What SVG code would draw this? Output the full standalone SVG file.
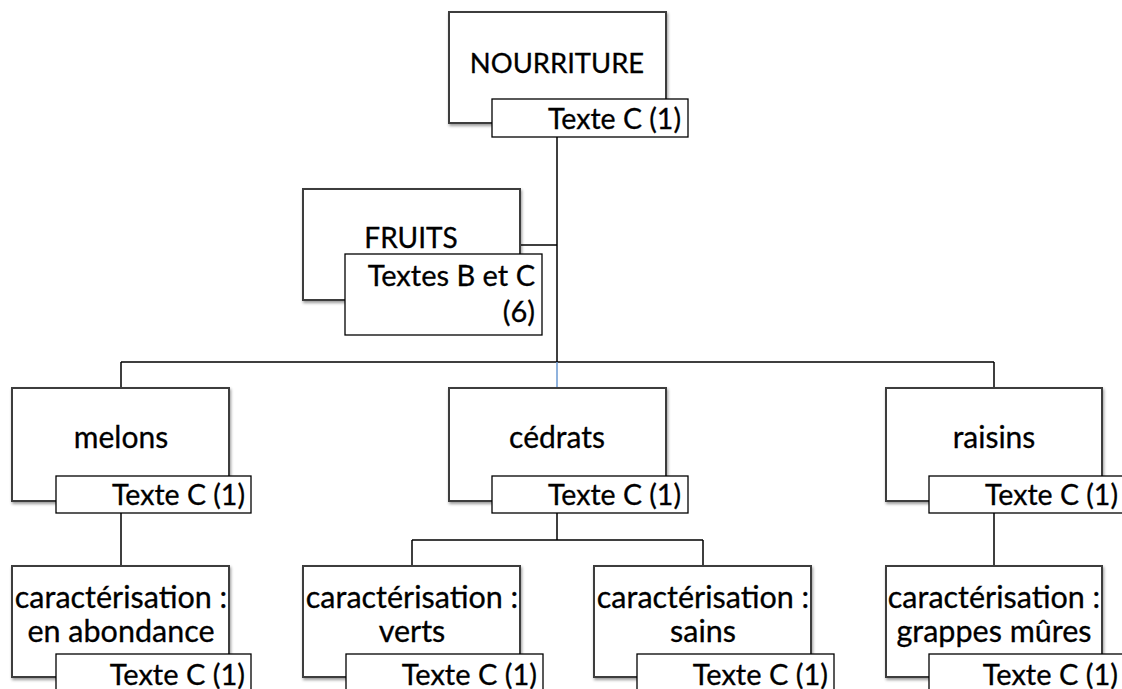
<svg xmlns="http://www.w3.org/2000/svg" width="1122" height="689" viewBox="0 0 1122 689">
<defs>
<filter id="sh" x="-10%" y="-10%" width="125%" height="130%">
<feDropShadow dx="1" dy="2" stdDeviation="1.5" flood-color="#000" flood-opacity="0.4"/>
</filter>
<style>
.box{fill:#fff;stroke:#3c3c3c;stroke-width:2;filter:url(#sh)}
.lab{fill:#fff;stroke:#000;stroke-width:1.3}
.t{font-family:Lato,"Open Sans","Liberation Sans",sans-serif;font-size:30px;fill:#000;stroke:#000;stroke-width:0.3}
.s{font-size:28.5px}
.b{font-size:29px}
.c{text-anchor:middle}
.r{text-anchor:end}
.ln{stroke:#000;stroke-width:1.5;fill:none}
</style>
</defs>
<rect width="1122" height="689" fill="#fff"/>
<g id="connectors">
<path class="ln" d="M557 137V362M520 245H557M121 362H994M121 362V388M994 362V388"/>
<path d="M557 362V388" stroke="#6a98d2" stroke-width="1.5"/>
<path class="ln" d="M121 513V566M557 513V540M412 540H703M412 540V566M703 540V566M994 513V566"/>
</g>
<g id="nourriture">
<rect class="box" x="449" y="12" width="217" height="111"/>
<text class="t c" x="557" y="73" style="font-size:27.4px">NOURRITURE</text>
<rect class="lab" x="492" y="99" width="196" height="38"/>
<text class="t r s" x="681" y="129">Texte C (1)</text>
</g>
<g id="fruits">
<rect class="box" x="303" y="189" width="217" height="111"/>
<text class="t c" x="411" y="248" style="font-size:28px">FRUITS</text>
<rect class="lab" x="345" y="254" width="197" height="81"/>
<text class="t r b" x="535" y="286">Textes B et C</text>
<text class="t r b" x="535" y="322">(6)</text>
</g>
<g id="melons">
<rect class="box" x="12" y="388" width="217" height="113"/>
<text class="t c" x="121" y="448">melons</text>
<rect class="lab" x="56" y="476" width="195" height="37"/>
<text class="t r s" x="245" y="505">Texte C (1)</text>
</g>
<g id="cedrats">
<rect class="box" x="449" y="388" width="217" height="113"/>
<text class="t c" x="557" y="448">cédrats</text>
<rect class="lab" x="492" y="476" width="196" height="37"/>
<text class="t r s" x="681" y="505">Texte C (1)</text>
</g>
<g id="raisins">
<rect class="box" x="886" y="388" width="216" height="113"/>
<text class="t c" x="994" y="448">raisins</text>
<rect class="lab" x="929" y="476" width="196" height="37"/>
<text class="t r s" x="1118" y="505">Texte C (1)</text>
</g>
<g id="car-melons">
<rect class="box" x="12" y="566" width="217" height="111"/>
<text class="t c" x="121" y="608" style="font-size:30.5px">caractérisation :</text>
<text class="t c" x="121" y="642" style="font-size:30.5px">en abondance</text>
<rect class="lab" x="56" y="654" width="195" height="40"/>
<text class="t r b" x="245" y="685">Texte C (1)</text>
</g>
<g id="car-verts">
<rect class="box" x="303" y="566" width="217" height="111"/>
<text class="t c" x="412" y="608" style="font-size:30.5px">caractérisation :</text>
<text class="t c" x="412" y="642" style="font-size:30.5px">verts</text>
<rect class="lab" x="346" y="654" width="197" height="40"/>
<text class="t r b" x="537" y="685">Texte C (1)</text>
</g>
<g id="car-sains">
<rect class="box" x="594" y="566" width="217" height="111"/>
<text class="t c" x="703" y="608" style="font-size:30.5px">caractérisation :</text>
<text class="t c" x="703" y="642" style="font-size:30.5px">sains</text>
<rect class="lab" x="637" y="654" width="197" height="40"/>
<text class="t r b" x="828" y="685">Texte C (1)</text>
</g>
<g id="car-raisins">
<rect class="box" x="886" y="566" width="216" height="111"/>
<text class="t c" x="994" y="608" style="font-size:30.5px">caractérisation :</text>
<text class="t c" x="994" y="642" style="font-size:30.5px">grappes mûres</text>
<rect class="lab" x="929" y="654" width="196" height="40"/>
<text class="t r b" x="1118" y="685">Texte C (1)</text>
</g>
</svg>
